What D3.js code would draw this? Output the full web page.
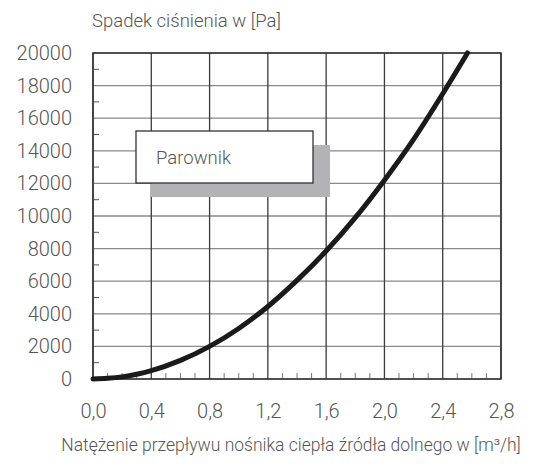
<!DOCTYPE html>
<html><head><meta charset="utf-8">
<script src="https://cdn.jsdelivr.net/npm/d3@7"></script>
<style>
body{margin:0;background:#fff;}
text{font-family:Roboto,"Liberation Sans",sans-serif;font-weight:300;fill:#555;}
</style></head>
<body><svg id="c" width="534" height="466"></svg>
<script>
const flow = [0, 0.1, 0.2, 0.3, 0.4, 0.6, 0.8, 1.0, 1.2, 1.4, 1.6, 1.8, 2.0, 2.2, 2.4, 2.57];
const pressure = [0, 40, 130, 290, 510, 1140, 2000, 3100, 4450, 6050, 7850, 9900, 12200, 14700, 17500, 20000];
const xTicks = [0, 0.4, 0.8, 1.2, 1.6, 2.0, 2.4, 2.8];
const yTicks = [0, 2000, 4000, 6000, 8000, 10000, 12000, 14000, 16000, 18000, 20000];
const xMinor = [0.1,0.2,0.3,0.5,0.6,0.7,0.9,1.0,1.1,1.3,1.4,1.5,1.7,1.8,1.9,2.1,2.2,2.3,2.5,2.6,2.7];
const yMinor = [1000,3000,5000,7000,9000,11000,13000,15000,17000,19000];
const legendLabel = "Parownik";
const yTitle = "Spadek ciśnienia w [Pa]";
const xTitle = "Natężenie przepływu nośnika ciepła źródła dolnego w [m³/h]";

const svg = d3.select("#c");
const L=93, R=501, T=53, B=379;
const x = d3.scaleLinear().domain([0,2.8]).range([L,R]);
const y = d3.scaleLinear().domain([0,20000]).range([B,T]);

// horizontal grid
svg.append("g").selectAll("line").data(yTicks).join("line")
  .attr("x1",L).attr("x2",R).attr("y1",d=>y(d)).attr("y2",d=>y(d))
  .attr("stroke","#8a8a8a").attr("stroke-width",1.3);
// vertical grid
svg.append("g").selectAll("line").data(xTicks).join("line")
  .attr("x1",d=>x(d)).attr("x2",d=>x(d)).attr("y1",T).attr("y2",B)
  .attr("stroke","#3a3a3a").attr("stroke-width",1.3);
// minor ticks
svg.append("g").selectAll("line").data(yMinor).join("line")
  .attr("x1",L).attr("x2",L+6).attr("y1",d=>y(d)).attr("y2",d=>y(d))
  .attr("stroke","#555").attr("stroke-width",1);
svg.append("g").selectAll("line").data(xMinor).join("line")
  .attr("x1",d=>x(d)).attr("x2",d=>x(d)).attr("y1",B).attr("y2",B-6)
  .attr("stroke","#777").attr("stroke-width",1);
// frame
svg.append("rect").attr("x",L).attr("y",T).attr("width",R-L).attr("height",B-T)
  .attr("fill","none").attr("stroke","#333").attr("stroke-width",1.5);

const fam = "Roboto,'Liberation Sans',sans-serif";
const yAxis = svg.append("g").attr("transform",`translate(${L},0)`)
  .call(d3.axisLeft(y).tickValues(yTicks).tickFormat(d3.format("d")).tickSize(0).tickPadding(21));
yAxis.select(".domain").remove();
yAxis.selectAll("text").style("font-size","20px").style("font-family",fam).style("font-weight",300).attr("fill","#555");
const xAxis = svg.append("g").attr("transform",`translate(0,${B})`)
  .call(d3.axisBottom(x).tickValues(xTicks).tickFormat(d=>d.toFixed(1).replace(".",",")).tickSize(0).tickPadding(25));
xAxis.select(".domain").remove();
xAxis.selectAll("text").style("font-size","20px").style("font-family",fam).style("font-weight",300).attr("fill","#555");

// legend box
svg.append("rect").attr("x",151).attr("y",145).attr("width",179).attr("height",52).attr("fill","#b3b3b5");
svg.append("rect").attr("x",136).attr("y",131).attr("width",177).attr("height",52).attr("fill","#fff").attr("stroke","#333").attr("stroke-width",1.3);
svg.append("text").attr("x",156).attr("y",164).style("font-size","18.5px").text(legendLabel);

// curve
const pts = flow.map((f,i)=>[f,pressure[i]]);
svg.append("path").datum(pts)
  .attr("d",d3.line().x(d=>x(d[0])).y(d=>y(d[1])).curve(d3.curveMonotoneX))
  .attr("fill","none").attr("stroke","#1a1a1a").attr("stroke-width",5).attr("stroke-linecap","round");

// titles
svg.append("text").attr("x",92).attr("y",27).style("font-size","18.5px").text(yTitle);
svg.append("text").attr("x",291).attr("y",451).attr("text-anchor","middle").style("font-size","17.5px").text(xTitle);
</script></body></html>
